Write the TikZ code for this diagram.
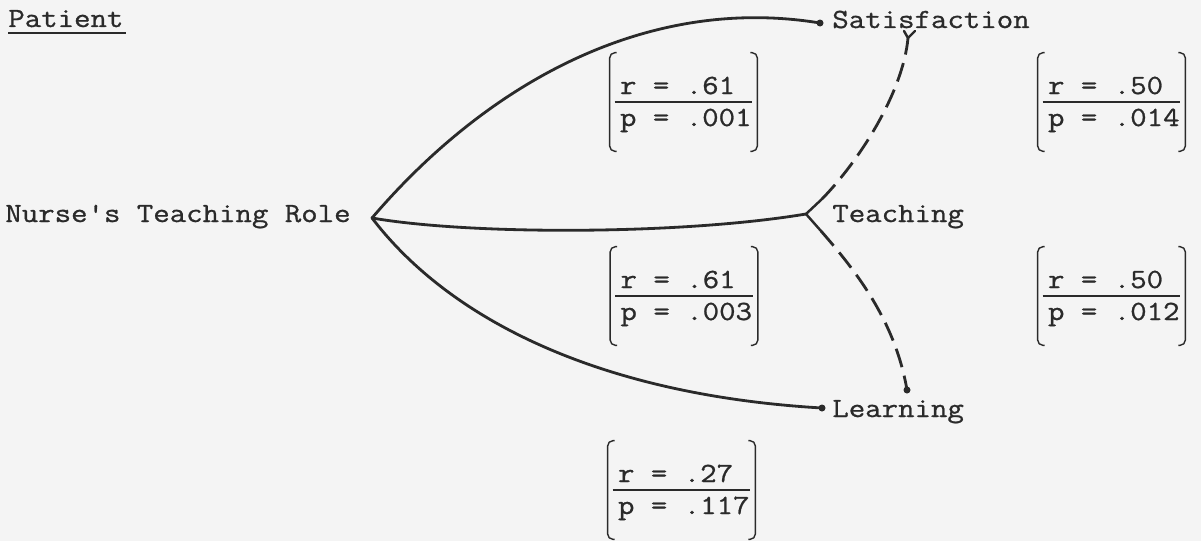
\documentclass[tikz,border=0pt]{standalone}
\usepackage{fontspec}
\setmonofont[FakeStretch=1.15,FakeBold=0.9]{Latin Modern Mono}
\usetikzlibrary{calc}
\definecolor{ink}{HTML}{2A2A2A}
\definecolor{paper}{HTML}{F4F4F4}
\newcommand{\corrbox}[5]{%
  \node[corr] (#1) at (#2,#3) {};
  \draw[bracket] ($(#1.north west)+(7,0)$) -- (#1.north west) -- (#1.south west) -- ($(#1.south west)+(7,0)$);
  \draw[bracket] ($(#1.north east)+(-7,0)$) -- (#1.north east) -- (#1.south east) -- ($(#1.south east)+(-7,0)$);
  \draw[fracline] ($(#1.west)+(5,0)$) -- ($(#1.east)+(-5,0)$);
  \node[lbl] (#1r) at ($(#1.west)+(10,-8)$) {r = #4};
  \node[lbl] (#1p) at ($(#1.west)+(10,24)$) {p = #5};
}
\begin{document}
\begin{tikzpicture}[x=0.02cm,y=-0.02cm,
  lbl/.style={font=\ttfamily\fontsize{15.8}{18}\selectfont, text=ink, inner sep=0pt, anchor=base west},
  curve/.style={draw=ink, line width=1.6pt, line cap=round},
  dashcurve/.style={draw=ink, line width=1.6pt, dash pattern=on 11pt off 5pt},
  fork/.style={draw=ink, line width=1.4pt, line cap=round},
  bracket/.style={draw=ink, line width=0.8pt, rounded corners=3pt},
  fracline/.style={draw=ink, line width=1.1pt},
  enddot/.style={fill=ink, draw=none},
  corr/.style={draw=none, inner sep=0pt, minimum width=2.94cm, minimum height=1.96cm}]
\useasboundingbox (0,0) rectangle (1201,541);
\fill[paper] (0,0) rectangle (1201,541);

% labels
\node[lbl] (patient) at (8,27) {Patient};
\draw[ink, line width=1.1pt] ($(patient.base west)+(0,6)$) -- ($(patient.base east)+(2,6)$);
\node[lbl] (nurse) at (5,222) {Nurse's Teaching Role};
\node[lbl] (sat) at (832,28) {Satisfaction};
\node[lbl] (teach) at (832,222) {Teaching};
\node[lbl] (learn) at (832,417) {Learning};

% connector points
\coordinate (root) at (372,218);
\coordinate (satEnd) at (820,23);
\coordinate (teachJ) at (806,214);
\coordinate (upArm) at (822,199);
\coordinate (loArm) at (821,231);
\coordinate (learnEnd) at (822,408);
\coordinate (satDash) at (908,38);
\coordinate (learnDash) at (907,390);

% solid curves
\draw[curve] (root) .. controls (490,80) and (650,-5) .. (satEnd);
\draw[curve] (root) .. controls (470,235) and (680,235) .. (teachJ);
\draw[curve] (root) .. controls (450,320) and (600,395) .. (learnEnd);
\fill[enddot] (satEnd) circle (3.5);
\fill[enddot] (learnEnd) circle (3.5);

% Y at Teaching
\draw[fork] (upArm) -- (teachJ) -- (loArm);

% dashed curves
\draw[dashcurve] (upArm) .. controls (860,160) and (903,92) .. (satDash);
\draw[fork] (904,31) -- (satDash) -- (915,31);
\draw[dashcurve] (loArm) .. controls (855,270) and (895,320) .. (learnDash);
\fill[enddot] (learnDash) circle (3.5);

% correlation boxes
\corrbox{b1}{683.5}{102}{.61}{.001}
\corrbox{b2}{1111.5}{102}{.50}{.014}
\corrbox{b3}{684}{296}{.61}{.003}
\corrbox{b4}{1111.5}{296}{.50}{.012}
\corrbox{b5}{681.5}{490}{.27}{.117}
\end{tikzpicture}
\end{document}
